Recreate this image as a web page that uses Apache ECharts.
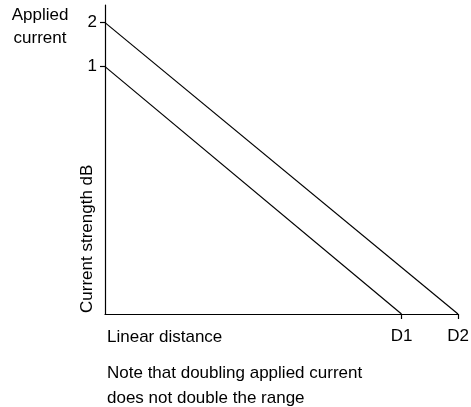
<!DOCTYPE html>
<html>
<head>
<meta charset="utf-8">
<script src="https://cdn.jsdelivr.net/npm/echarts@6/dist/echarts.min.js"></script>
<style>
  html, body { margin: 0; padding: 0; background: #fff; }
  #chart { width: 471px; height: 407px; }
</style>
</head>
<body>
<div id="chart"></div>
<script>
// distance units (D2 = 10), strength in dB above the floor
const xTickValues = [8.4, 10]
const xTickLabels = ['D1', 'D2']
const yTickValues = [33.7, 39.7]
const yTickLabels = ['1', '2']

const lowCurrent = [[0, 33.7], [8.4, 0]]
const highCurrent = [[0, 39.7], [10, 0]]

const FONT = '"Liberation Sans", Arial, Helvetica, sans-serif'

const chart = echarts.init(document.getElementById('chart'))

const lineStyle = { color: '#000', width: 1.2 }

chart.setOption({
  animation: false,
  backgroundColor: '#fff',
  grid: {
    left: 105,
    right: 13,
    top: 5,
    bottom: 93,
    outerBoundsMode: 'none'
  },
  xAxis: {
    type: 'value',
    min: 0,
    max: 10,
    axisLine: { lineStyle: lineStyle },
    axisTick: { show: true, length: 5, customValues: xTickValues, lineStyle: lineStyle },
    axisLabel: {
      customValues: xTickValues,
      formatter: v => xTickLabels[xTickValues.indexOf(v)] || '',
      margin: 14,
      color: '#000',
      fontSize: 17,
      fontFamily: FONT
    },
    splitLine: { show: false }
  },
  yAxis: {
    type: 'value',
    min: 0,
    max: 42.1,
    axisLine: { show: true, lineStyle: lineStyle },
    axisTick: { show: true, length: 5, customValues: yTickValues, lineStyle: lineStyle },
    axisLabel: {
      customValues: yTickValues,
      formatter: v => yTickLabels[yTickValues.indexOf(v)] || '',
      margin: 8,
      color: '#000',
      fontSize: 17,
      fontFamily: FONT
    },
    splitLine: { show: false }
  },
  series: [
    {
      name: 'Applied current 1',
      type: 'line',
      data: lowCurrent,
      showSymbol: false,
      lineStyle: lineStyle
    },
    {
      name: 'Applied current 2',
      type: 'line',
      data: highCurrent,
      showSymbol: false,
      lineStyle: lineStyle
    }
  ],
  graphic: [
    {
      type: 'text',
      x: 40,
      y: 4,
      style: {
        text: 'Applied\ncurrent',
        align: 'center',
        verticalAlign: 'top',
        lineHeight: 23,
        font: '17px ' + FONT,
        fill: '#000'
      }
    },
    {
      type: 'text',
      x: 87,
      y: 313,
      rotation: Math.PI / 2,
      style: {
        text: 'Current strength dB',
        align: 'left',
        verticalAlign: 'middle',
        font: '17px ' + FONT,
        fill: '#000'
      }
    },
    {
      type: 'text',
      x: 107,
      y: 337,
      style: {
        text: 'Linear distance',
        align: 'left',
        verticalAlign: 'middle',
        font: '17px ' + FONT,
        fill: '#000'
      }
    },
    {
      type: 'text',
      x: 107,
      y: 361,
      style: {
        text: 'Note that doubling applied current\ndoes not double the range',
        align: 'left',
        verticalAlign: 'top',
        lineHeight: 25,
        font: '17px ' + FONT,
        fill: '#000'
      }
    }
  ]
})
</script>
</body>
</html>
